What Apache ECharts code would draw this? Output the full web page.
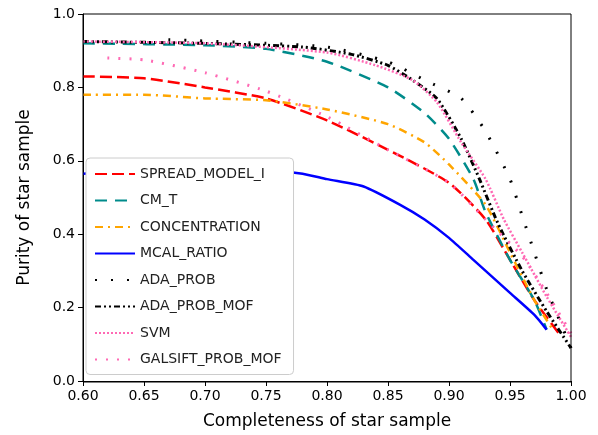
<!DOCTYPE html>
<html><head><meta charset="utf-8">
<script src="https://cdn.jsdelivr.net/npm/echarts@6/dist/echarts.min.js"></script>
<style>html,body{margin:0;padding:0;background:#fff}#c{width:598px;height:435px}</style>
</head><body><div id="c"></div>
<script>
const names = ['SPREAD_MODEL_I','CM_T','CONCENTRATION','MCAL_RATIO','ADA_PROB','ADA_PROB_MOF','SVM','GALSIFT_PROB_MOF'];
const spreadModel = [[0.6,0.83],[0.65,0.825],[0.70,0.80],[0.75,0.77],[0.80,0.71],[0.85,0.63],[0.90,0.54],[0.93,0.44],[0.95,0.33],[0.97,0.22],[0.99,0.13]];
const cmT = [[0.6,0.92],[0.7,0.915],[0.75,0.905],[0.80,0.87],[0.85,0.80],[0.88,0.73],[0.90,0.66],[0.92,0.55],[0.93,0.46],[0.95,0.33],[0.97,0.22],[0.98,0.14]];
const concentration = [[0.6,0.78],[0.65,0.78],[0.70,0.77],[0.75,0.765],[0.80,0.74],[0.85,0.70],[0.88,0.65],[0.90,0.59],[0.93,0.48],[0.95,0.35],[0.97,0.22],[0.985,0.14]];
const mcalRatio = [[0.6,0.565],[0.65,0.575],[0.70,0.58],[0.75,0.575],[0.78,0.565],[0.80,0.55],[0.83,0.53],[0.86,0.48],[0.88,0.44],[0.90,0.39],[0.92,0.33],[0.95,0.24],[0.97,0.18],[0.98,0.14]];
const adaProb = [[0.67,0.93],[0.75,0.92],[0.80,0.91],[0.85,0.87],[0.88,0.82],[0.91,0.77],[0.93,0.68],[0.95,0.55],[0.96,0.45],[0.97,0.35],[0.98,0.25],[0.99,0.17],[1.0,0.09]];
const adaProbMof = [[0.6,0.925],[0.7,0.92],[0.78,0.91],[0.82,0.89],[0.85,0.86],[0.87,0.82],[0.89,0.77],[0.91,0.66],[0.925,0.55],[0.94,0.43],[0.96,0.30],[0.98,0.19],[1.0,0.09]];
const svm = [[0.6,0.925],[0.7,0.92],[0.8,0.895],[0.84,0.86],[0.87,0.82],[0.89,0.76],[0.91,0.65],[0.93,0.55],[0.945,0.44],[0.96,0.35],[0.98,0.23],[1.0,0.12]];
const galsift = [[0.62,0.88],[0.65,0.875],[0.70,0.84],[0.75,0.79],[0.80,0.72],[0.85,0.63],[0.90,0.54],[0.93,0.44],[0.96,0.34],[0.98,0.24],[1.0,0.13]];
const xTicks = [0.60,0.65,0.70,0.75,0.80,0.85,0.90,0.95,1.00];

const datas = [spreadModel, cmT, concentration, mcalRatio, adaProb, adaProbMof, svm, galsift];
const colors = ['#ff0000','#008b8b','#ffa500','#0000ff','#000000','#000000','#ff69b4','#ff69b4'];
const dashes = [[12,5],[12,8],[8,5,2,5],'solid',[2,14],[6,3,2,3,2,3],[2,2],[2,9]];
const widths = [2.5,2.5,2.5,2.5,3,3,2.5,3];

const chart = echarts.init(document.getElementById('c'), null, {renderer:'canvas'});
const font = 'DejaVu Sans';
chart.setOption({
  animation:false,
  textStyle:{fontFamily:font},
  grid:{left:83,right:27,top:14,bottom:53},
  xAxis:{type:'value',min:0.6,max:1.0,interval:0.05,
    name:'Completeness of star sample',nameLocation:'middle',nameGap:32,
    nameTextStyle:{fontSize:17,color:'#000'},
    axisLine:{lineStyle:{color:'#000'}},axisTick:{show:true,length:5,lineStyle:{color:'#000'}},
    axisLabel:{fontSize:14,color:'#000',formatter:v=>{const t=xTicks.find(a=>Math.abs(a-v)<1e-6);return t===undefined?'':t.toFixed(2);}},
    splitLine:{show:false}},
  yAxis:{type:'value',min:0,max:1,interval:0.2,
    name:'Purity of star sample',nameLocation:'middle',nameGap:50,
    nameTextStyle:{fontSize:17,color:'#000'},
    axisLine:{show:true,lineStyle:{color:'#000'}},axisTick:{show:true,length:5,lineStyle:{color:'#000'}},
    axisLabel:{fontSize:14,color:'#000',formatter:v=>v.toFixed(1)},
    splitLine:{show:false}},
  legend:{orient:'vertical',left:86,top:158,itemWidth:40,itemHeight:12,itemGap:12.5,
    backgroundColor:'#fff',borderColor:'#ccc',borderWidth:1,borderRadius:4,padding:[9,12,8,8],
    itemStyle:{opacity:0},
    textStyle:{fontSize:14,color:'#222',fontFamily:font},data:names},
  series:names.map((n,i)=>({name:n,type:'line',data:datas[i],symbol:'none',smooth:0.2,
    color:colors[i],lineStyle:{color:colors[i],width:widths[i],type:dashes[i]}}))
});
chart.setOption({graphic:[{type:'rect',shape:{x:83,y:14,width:488,height:368},style:{fill:'none',stroke:'#000',lineWidth:1},z:100}]});
</script></body></html>
